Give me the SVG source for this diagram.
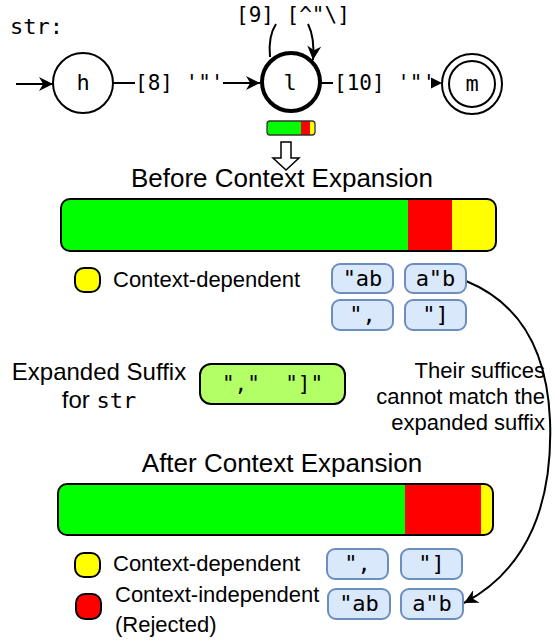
<svg xmlns="http://www.w3.org/2000/svg" width="555" height="642" viewBox="0 0 555 642">
<defs>
<marker id="ahb" viewBox="0 0 10 10" refX="10" refY="5" markerWidth="18" markerHeight="14" markerUnits="userSpaceOnUse" orient="auto"><path d="M0,0 L10,5 L0,10 L3,5 Z" fill="#000"/></marker>
</defs>
<style>
.mono{font-family:"DejaVu Sans Mono","Liberation Mono",monospace;fill:#000}
.sans{font-family:"Liberation Sans",Arial,sans-serif;fill:#000}
.st{fill:#fff;stroke:#000;stroke-width:2}
.tok{fill:#dae8fc;stroke:#6c8ebf;stroke-width:2}
.edge{fill:none;stroke:#000;stroke-width:2}
</style>
<rect width="555" height="642" fill="#fff"/>
<text class="mono" x="10" y="34" font-size="22">str:</text>

<g id="connectors">
<line class="edge" x1="16" y1="84" x2="53" y2="84" marker-end="url(#ahb)"/>
<line class="edge" x1="114" y1="83" x2="135" y2="83"/>
<line class="edge" x1="223" y1="83" x2="260" y2="83" marker-end="url(#ahb)"/>
<line class="edge" x1="321" y1="83" x2="333" y2="83"/>
<path d="M431,77.5 L442,83 L431,88.5 Z" fill="#000"/>
<path class="edge" d="M270,57 Q268,36 276,24 M308,24 Q315,38 313,60" marker-end="url(#ahb)"/>
<path class="edge" d="M466,281 C520,303 547,350 550,420 C553,500 530,568 464,603" marker-end="url(#ahb)" stroke-width="1.8"/>
<text class="mono" x="135" y="90" font-size="21">[8] '"'</text>
<text class="mono" x="334" y="90" font-size="21">[10] '"'</text>
<text class="mono" x="236" y="22" font-size="21">[9] [^"\]</text>
</g>

<g id="node-h">
<circle class="st" cx="83" cy="83" r="30"/>
<text class="mono" x="83" y="90" font-size="22" text-anchor="middle">h</text>
</g>
<g id="node-l">
<circle cx="291" cy="82" r="29" fill="#fff" stroke="#000" stroke-width="4"/>
<text class="mono" x="290" y="90" font-size="22" text-anchor="middle">l</text>
</g>
<g id="node-m">
<circle class="st" cx="472" cy="84" r="30"/>
<circle class="st" cx="472" cy="84" r="23"/>
<text class="mono" x="472" y="91" font-size="22" text-anchor="middle">m</text>
</g>

<g id="mini-bar">
<clipPath id="cm"><rect x="267" y="121" width="48" height="14" rx="3"/></clipPath>
<g clip-path="url(#cm)">
<rect x="267" y="121" width="34" height="14" fill="#00ff00"/>
<rect x="301" y="121" width="9" height="14" fill="#ff0000"/>
<rect x="310" y="121" width="5" height="14" fill="#ffff00"/>
</g>
<rect x="267" y="121" width="48" height="14" rx="3" fill="none" stroke="#333" stroke-width="1.3"/>
</g>

<g id="down-arrow">
<path d="M281,142 L291,142 L291,158 L299,158 L286,170 L273,158 L281,158 Z" fill="#fff" stroke="#000" stroke-width="1.5"/>
</g>

<g id="before">
<text class="sans" x="282" y="187" font-size="26" text-anchor="middle">Before Context Expansion</text>
<clipPath id="c1"><rect x="61" y="199" width="435" height="52" rx="9"/></clipPath>
<g clip-path="url(#c1)">
<rect x="61" y="199" width="347" height="52" fill="#00ff00"/>
<rect x="408" y="199" width="44" height="52" fill="#ff0000"/>
<rect x="452" y="199" width="44" height="52" fill="#ffff00"/>
</g>
<rect x="61" y="199" width="435" height="52" rx="9" fill="none" stroke="#000" stroke-width="2"/>
<rect x="75" y="268" width="25" height="24" rx="9" fill="#ffff00" stroke="#000" stroke-width="2"/>
<text class="sans" x="113" y="287" font-size="22">Context-dependent</text>
</g>

<g id="tok-b1"><rect class="tok" x="332" y="264" width="61" height="29" rx="8"/><text class="mono" x="362.5" y="286" font-size="22" text-anchor="middle">"ab</text></g>
<g id="tok-b2"><rect class="tok" x="405" y="264" width="61" height="29" rx="8"/><text class="mono" x="435.5" y="286" font-size="22" text-anchor="middle">a"b</text></g>
<g id="tok-b3"><rect class="tok" x="332" y="300" width="61" height="30" rx="8"/><text class="mono" x="362.5" y="322" font-size="22" text-anchor="middle">",</text></g>
<g id="tok-b4"><rect class="tok" x="405" y="300" width="61" height="30" rx="8"/><text class="mono" x="435.5" y="322" font-size="22" text-anchor="middle">"]</text></g>

<g id="expanded-suffix">
<text class="sans" x="99" y="380" font-size="24" text-anchor="middle">Expanded Suffix</text>
<text x="99" y="408" font-size="24" text-anchor="middle"><tspan class="sans">for </tspan><tspan class="mono" font-size="22">str</tspan></text>
<rect x="200" y="364" width="145" height="40" rx="11" fill="#b3ff66" stroke="#000" stroke-width="2"/>
<text class="mono" x="272.5" y="391" font-size="21" text-anchor="middle" xml:space="preserve">","  "]"</text>
</g>

<g id="note">
<text class="sans" x="545" y="378" font-size="22" text-anchor="end">Their suffices</text>
<text class="sans" x="545" y="404" font-size="22" text-anchor="end">cannot match the</text>
<text class="sans" x="545" y="430" font-size="22" text-anchor="end">expanded suffix</text>
</g>

<g id="after">
<text class="sans" x="282" y="472" font-size="26" text-anchor="middle">After Context Expansion</text>
<clipPath id="c2"><rect x="58" y="484" width="435" height="51" rx="9"/></clipPath>
<g clip-path="url(#c2)">
<rect x="58" y="484" width="347" height="51" fill="#00ff00"/>
<rect x="405" y="484" width="76" height="51" fill="#ff0000"/>
<rect x="481" y="484" width="12" height="51" fill="#ffff00"/>
</g>
<rect x="58" y="484" width="435" height="51" rx="9" fill="none" stroke="#000" stroke-width="2"/>
<rect x="75" y="553" width="25" height="24" rx="9" fill="#ffff00" stroke="#000" stroke-width="2"/>
<text class="sans" x="113" y="571" font-size="22">Context-dependent</text>
<rect x="76" y="594" width="25" height="25" rx="9" fill="#ff0000" stroke="#000" stroke-width="2"/>
<text class="sans" x="115" y="602" font-size="22">Context-independent</text>
<text class="sans" x="115" y="632" font-size="22">(Rejected)</text>
</g>

<g id="tok-a1"><rect class="tok" x="327" y="549" width="61" height="30" rx="8"/><text class="mono" x="357.5" y="571" font-size="22" text-anchor="middle">",</text></g>
<g id="tok-a2"><rect class="tok" x="401" y="549" width="61" height="30" rx="8"/><text class="mono" x="431.5" y="571" font-size="22" text-anchor="middle">"]</text></g>
<g id="tok-a3"><rect class="tok" x="328" y="589" width="62" height="30" rx="8"/><text class="mono" x="359" y="611" font-size="22" text-anchor="middle">"ab</text></g>
<g id="tok-a4"><rect class="tok" x="401" y="589" width="62" height="30" rx="8"/><text class="mono" x="432" y="611" font-size="22" text-anchor="middle">a"b</text></g>
</svg>
